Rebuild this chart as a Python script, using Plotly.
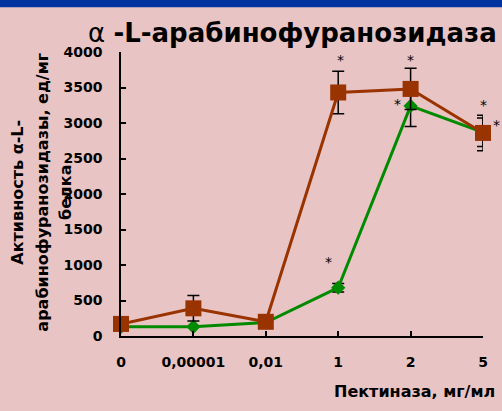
import plotly.graph_objects as go

# ---- data ----
categories = ["0", "0,00001", "0,01", "1", "2", "5"]
brown_values = [170, 390, 200, 3430, 3480, 2860]
brown_errors = [0, 180, 0, 300, 290, 250]
green_values = [130, 130, 190, 680, 3240, 2870]
green_errors = [0, 0, 0, 60, 290, 200]
y_ticks = [0, 500, 1000, 1500, 2000, 2500, 3000, 3500, 4000]

# significance marks: category indices per series
brown_marks = [3, 4, 5]
green_marks = [3, 4, 5]

x_idx = list(range(len(categories)))

BROWN = "#993300"
GREEN = "#008a00"
BG = "#e9c4c4"
FONT = "DejaVu Sans"

fig = go.Figure()

fig.add_trace(go.Scatter(
    x=x_idx, y=green_values,
    mode="lines+markers",
    line=dict(color=GREEN, width=3),
    marker=dict(symbol="diamond", size=11, color=GREEN),
    error_y=dict(type="data", array=green_errors, visible=True,
                 color="black", thickness=1.5, width=6),
    cliponaxis=False, showlegend=False,
))
fig.add_trace(go.Scatter(
    x=x_idx, y=brown_values,
    mode="lines+markers",
    line=dict(color=BROWN, width=3),
    marker=dict(symbol="square", size=16, color=BROWN),
    error_y=dict(type="data", array=brown_errors, visible=True,
                 color="black", thickness=1.5, width=6),
    cliponaxis=False, showlegend=False,
))

# asterisk offsets in pixels (style)
brown_shift = {3: (2, 32), 4: (0, 29), 5: (0, 28)}
green_shift = {3: (-10, 26), 4: (-13, 2), 5: (13, 7)}

annotations = []
for i in brown_marks:
    dx, dy = brown_shift[i]
    annotations.append(dict(x=i, y=brown_values[i], xref="x", yref="y",
                            text="*", showarrow=False, xshift=dx, yshift=dy,
                            font=dict(family=FONT, size=14, color="black")))
for i in green_marks:
    dx, dy = green_shift[i]
    annotations.append(dict(x=i, y=green_values[i], xref="x", yref="y",
                            text="*", showarrow=False, xshift=dx, yshift=dy,
                            font=dict(family=FONT, size=14, color="black")))

# title
annotations.append(dict(
    x=-0.097, y=1.067, xref="paper", yref="paper", xanchor="left", yanchor="middle",
    text="α <b>-L-арабинофуранозидаза</b>", showarrow=False,
    font=dict(family=FONT, size=26, color="black")))

# y axis title (three lines)
ytitle_lines = [("Активность α-L-", -0.287, 0.505),
                ("арабинофуранозидазы, ед/мг", -0.218, 0.505),
                ("белка", -0.155, 0.507)]
for txt, xp, yp in ytitle_lines:
    annotations.append(dict(
        x=xp, y=yp, xref="paper", yref="paper", xanchor="center", yanchor="middle",
        text="<b>" + txt + "</b>", textangle=-90, showarrow=False,
        font=dict(family=FONT, size=16, color="black")))

# x axis title
annotations.append(dict(
    x=1.04, y=-0.194, xref="paper", yref="paper", xanchor="right", yanchor="middle",
    text="<b>Пектиназа, мг/мл</b>", showarrow=False,
    font=dict(family=FONT, size=16, color="black")))

fig.update_layout(
    width=502, height=411,
    margin=dict(l=121, r=19, t=52, b=75, pad=0),
    paper_bgcolor=BG, plot_bgcolor=BG,
    annotations=annotations,
    shapes=[dict(type="rect", xref="paper", yref="paper",
                 x0=-0.4, x1=1.1, y0=1.158, y1=1.25,
                 fillcolor="#0033a0", line=dict(width=0), layer="above")],
    xaxis=dict(
        range=[0, 5], tickmode="array", tickvals=x_idx, ticktext=categories,
        showgrid=False, zeroline=False, showline=True, linecolor="black", linewidth=1.5,
        ticks="inside", ticklen=5, tickwidth=1.5, tickcolor="black",
        tickfont=dict(family=FONT, size=14, color="black", weight="bold"),
        ticklabelstandoff=12,
    ),
    yaxis=dict(
        range=[0, 4000], tickmode="array", tickvals=y_ticks,
        showgrid=False, zeroline=False, showline=True, linecolor="black", linewidth=1.5,
        ticks="inside", ticklen=5, tickwidth=1.5, tickcolor="black",
        tickfont=dict(family=FONT, size=14, color="black", weight="bold"),
        ticklabelstandoff=14,
    ),
)

fig.write_html("out.html",
               config={"displayModeBar": False},
               post_script="document.body.style.margin='0';document.body.style.background='%s';" % BG)
